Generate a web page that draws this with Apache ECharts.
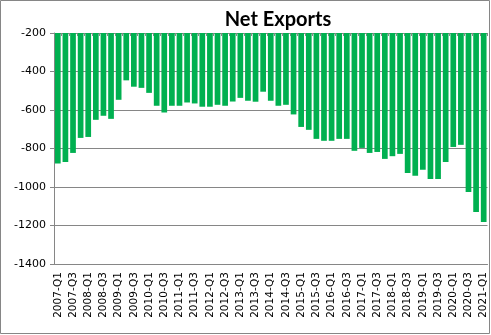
<!DOCTYPE html>
<html>
<head>
<meta charset="utf-8">
<script src="https://cdn.jsdelivr.net/npm/echarts@6/dist/echarts.min.js"></script>
<style>
  html, body { margin: 0; padding: 0; background: #fff; }
  #chart { width: 491px; height: 335px; }
</style>
</head>
<body>
<div id="chart"></div>
<script>
// Quarterly net exports, 2007-Q1 .. 2021-Q1
const years = [2007, 2008, 2009, 2010, 2011, 2012, 2013, 2014, 2015, 2016, 2017, 2018, 2019, 2020, 2021];
const quarters = ['Q1', 'Q2', 'Q3', 'Q4'];
const categories = [];
years.forEach(y => quarters.forEach(q => {
  if (y < 2021 || q === 'Q1') categories.push(y + '-' + q);
}));

const netExports = [
  -878, -870, -823, -745, -740, -651, -630, -646,
  -547, -446, -479, -485, -511, -578, -613, -578,
  -578, -561, -566, -583, -583, -573, -578, -556,
  -537, -552, -557, -505, -552, -578, -573, -623,
  -688, -703, -750, -760, -760, -750, -750, -812,
  -797, -823, -818, -854, -840, -828, -927, -942,
  -911, -958, -958, -870, -792, -781, -1026, -1130,
  -1182
];

const yTicks = { min: -1400, max: -200, step: 200 };

const gray = '#868686';
const chart = echarts.init(document.getElementById('chart'), null, { renderer: 'canvas' });

chart.setOption({
  animation: false,
  backgroundColor: '#ffffff',
  title: {
    text: 'Net Exports',
    left: 273,
    top: 5,
    textAlign: 'center',
    textStyle: { fontFamily: 'Lato', fontWeight: 'bold', fontSize: 20, color: '#000' }
  },
  graphic: [{
    type: 'rect',
    shape: { x: 0.5, y: 0.5, width: 489, height: 333 },
    style: { fill: 'none', stroke: gray, lineWidth: 1 },
    silent: true
  }],
  grid: { left: 54, right: 3.5, top: 33, bottom: 71 },
  xAxis: [{
    type: 'category',
    data: categories,
    position: 'bottom',
    boundaryGap: true,
    axisLine: { show: true, lineStyle: { color: gray } },
    axisTick: { show: false },
    axisLabel: {
      interval: 1,
      rotate: 90,
      margin: 8,
      fontFamily: 'DejaVu Sans',
      fontSize: 10.5,
      color: '#000'
    },
    splitLine: { show: false }
  }, {
    type: 'category',
    data: categories,
    position: 'top',
    boundaryGap: true,
    axisLine: { show: true, lineStyle: { color: gray } },
    axisTick: { show: true, inside: true, length: 3, interval: 0, lineStyle: { color: gray } },
    axisLabel: { show: false },
    splitLine: { show: false }
  }],
  yAxis: {
    type: 'value',
    min: yTicks.min,
    max: yTicks.max,
    interval: yTicks.step,
    axisLine: { show: true, lineStyle: { color: gray } },
    axisTick: { show: true, length: 4, lineStyle: { color: gray } },
    axisLabel: {
      fontFamily: 'DejaVu Sans',
      fontSize: 11,
      color: '#000',
      margin: 8,
      formatter: v => String(v)
    },
    splitLine: { show: true, lineStyle: { color: gray, width: 1 } }
  },
  series: [{
    type: 'bar',
    data: netExports,
    xAxisIndex: 0,
    barCategoryGap: '25%',
    clip: true,
    itemStyle: { color: '#00B050' }
  }]
});
</script>
</body>
</html>
